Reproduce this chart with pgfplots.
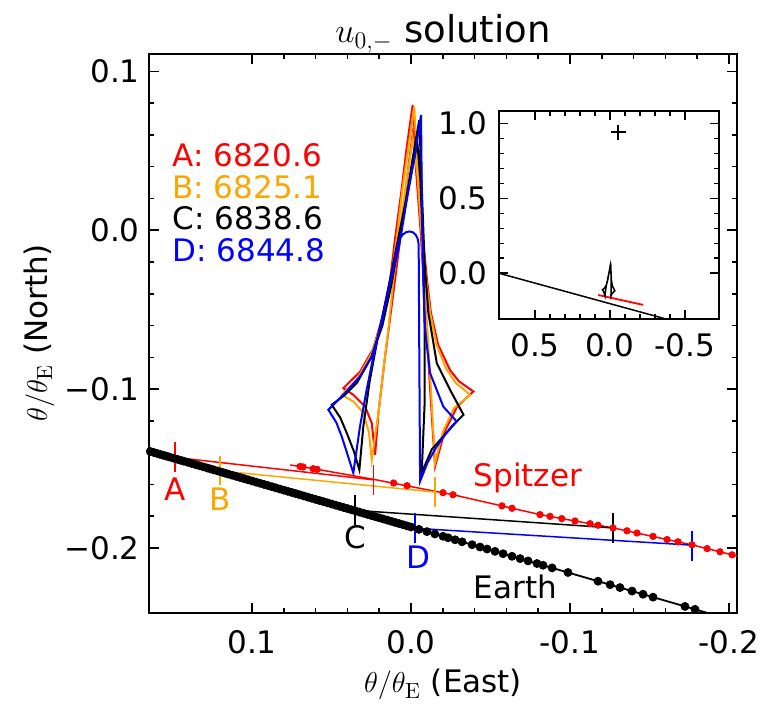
\documentclass[border=0pt]{standalone}
\usepackage[no-math]{fontspec}
\setmainfont{DejaVu Sans}
\usepackage{pgfplots}
\pgfplotsset{compat=1.18}
\definecolor{mplorange}{RGB}{255,165,0}
\definecolor{mplred}{RGB}{255,0,0}
\definecolor{mplblue}{RGB}{0,0,255}

\begin{document}
\begin{tikzpicture}[font=\fontsize{15.5}{18.6}\selectfont]
\path[use as bounding box] (0,0) rectangle (380.5pt,352pt);
\begin{axis}[
  at={(74.5pt,45.35pt)}, anchor=south west,
  scale only axis, width=294pt, height=279.65pt,
  x dir=reverse,
  xmin=-0.2050, xmax=0.1648, ymin=-0.2411, ymax=0.1109,
  xtick={0.1,0,-0.1,-0.2}, xticklabels={0.1,0.0,-0.1,-0.2},
  ytick={-0.2,-0.1,0,0.1}, yticklabels={−0.2,−0.1,0.0,0.1},
  minor x tick num=4, minor y tick num=4,
  tick align=inside, xtick pos=both, ytick pos=both,
  major tick length=5pt, minor tick length=2.5pt,
  tick style={black, line width=0.75pt},
  axis line style={line width=1pt},
  xticklabel style={inner sep=0pt, anchor=north, yshift=-8.5pt},
  yticklabel style={inner sep=0pt, anchor=east, xshift=-4.5pt},
]
% caustics
\addplot[mplred, line width=1pt] coordinates {
(-0.001,0.0788) (0.003,0.05) (0.006,0.025) (0.010,-0.005) (0.013,-0.03) (0.018,-0.055) (0.024,-0.075) (0.032,-0.089) (0.0426,-0.0994)
(0.0363,-0.1036) (0.0289,-0.111) (0.0247,-0.1214) (0.0226,-0.1413)
(0.0205,-0.115) (0.017,-0.085) (0.0125,-0.05) (0.008,-0.015) (0.004,0.02) (0.001,0.045) (-0.001,0.06)
(-0.003,0.04) (-0.006,0.0) (-0.009,-0.05) (-0.012,-0.1) (-0.0151,-0.1487)
(-0.021,-0.127) (-0.029,-0.111) (-0.0392,-0.1015)
(-0.030,-0.095) (-0.0245,-0.088) (-0.017,-0.072) (-0.0125,-0.052) (-0.010,-0.031) (-0.007,0.0) (-0.004,0.04) (-0.001,0.0788)};
\addplot[mplorange, line width=1pt] coordinates {
(-0.002,0.0778) (0.002,0.05) (0.0055,0.025) (0.009,-0.005) (0.0125,-0.03) (0.018,-0.057) (0.025,-0.078) (0.034,-0.094) (0.0436,-0.1036)
(0.036,-0.108) (0.030,-0.115) (0.0265,-0.127) (0.0247,-0.1445)
(0.0205,-0.115) (0.0174,-0.088) (0.0140,-0.06) (0.0111,-0.0313) (0.007,0.0) (0.003,0.03) (0.0,0.05) (-0.001,0.058)
(-0.004,0.035) (-0.0065,0.0) (-0.0095,-0.05) (-0.0125,-0.1) (-0.0151,-0.1466)
(-0.020,-0.127) (-0.027,-0.112) (-0.0371,-0.1036)
(-0.028,-0.096) (-0.022,-0.087) (-0.016,-0.072) (-0.012,-0.052) (-0.0095,-0.031) (-0.0065,0.0) (-0.004,0.04) (-0.002,0.0778)};
\addplot[black, line width=1pt] coordinates {
(-0.0052,0.0694) (-0.001,0.045) (0.003,0.02) (0.008,-0.01) (0.0125,-0.035) (0.018,-0.06) (0.025,-0.08) (0.034,-0.096) (0.042,-0.104) (0.0499,-0.1099)
(0.0445,-0.118) (0.0404,-0.1277) (0.036,-0.139) (0.0325,-0.1508)
(0.030,-0.1235) (0.026,-0.095) (0.021,-0.068) (0.015,-0.04) (0.009,-0.01) (0.003,0.02) (-0.002,0.045) (-0.004,0.055)
(-0.006,0.03) (-0.0075,-0.01) (-0.0085,-0.06) (-0.0085,-0.11) (-0.0067,-0.1528)
(-0.013,-0.138) (-0.0203,-0.1298) (-0.026,-0.123) (-0.033,-0.1162)
(-0.0245,-0.1004) (-0.0162,-0.0837) (-0.0109,-0.052) (-0.0085,-0.02) (-0.007,0.02) (-0.0052,0.0694)};
\addplot[mplblue, line width=1pt] coordinates {
(-0.0063,0.0725) (-0.002,0.045) (0.0025,0.02) (0.0075,-0.01) (0.0135,-0.035) (0.0184,-0.0585) (0.0247,-0.0795) (0.0321,-0.092) (0.0426,-0.1036) (0.052,-0.113)
(0.047,-0.121) (0.0436,-0.1298) (0.040,-0.141) (0.0363,-0.1528)
(0.0321,-0.1235) (0.0279,-0.1004) (0.0237,-0.0795) (0.018,-0.055) (0.0125,-0.03) (0.0074,-0.0061)
(0.0055,-0.0030) (0.0030,-0.0012) (0.0011,-0.0008) (-0.0010,-0.0012) (-0.0030,-0.0030) (-0.0042,-0.0055) (-0.0048,-0.0090)
(-0.0052,-0.08) (-0.0057,-0.158)
(-0.0105,-0.146) (-0.0162,-0.1361) (-0.022,-0.128) (-0.0287,-0.1204)
(-0.0203,-0.111) (-0.012,-0.09) (-0.0088,-0.0627) (-0.0077,-0.0313) (-0.0068,0.02) (-0.0063,0.0725)};
% Earth trajectory
\addplot[black, line width=0.9pt] coordinates {(0.166,-0.13867) (-0.19,-0.24191)};
\addplot[only marks, mark=*, mark size=2pt, mark options={black, fill=black}] coordinates {
(0.164,-0.13925) (0.162,-0.13983) (0.160,-0.14041) (0.158,-0.14099) (0.156,-0.14157) (0.154,-0.14215) (0.152,-0.14273) (0.1495,-0.14346)
(0.147,-0.14418) (0.145,-0.14476) (0.143,-0.14534) (0.1405,-0.14607) (0.138,-0.14679) (0.1355,-0.14752) (0.133,-0.14824) (0.1305,-0.14897)
(0.128,-0.14969) (0.126,-0.15027) (0.124,-0.15085) (0.1215,-0.15158) (0.119,-0.1523) (0.117,-0.15288) (0.115,-0.15346) (0.1125,-0.15419)
(0.110,-0.15491) (0.1075,-0.15564) (0.105,-0.15636) (0.1025,-0.15709) (0.100,-0.15781) (0.0975,-0.15854) (0.095,-0.15926) (0.0925,-0.15999)
(0.090,-0.16071) (0.0875,-0.16144) (0.085,-0.16216) (0.0825,-0.16289) (0.080,-0.16361) (0.0775,-0.16434) (0.075,-0.16506) (0.0725,-0.16579)
(0.070,-0.16651) (0.0675,-0.16724) (0.065,-0.16796) (0.0625,-0.16869) (0.060,-0.16941) (0.0575,-0.17014) (0.055,-0.17086) (0.0525,-0.17159)
(0.050,-0.17231) (0.0475,-0.17304) (0.045,-0.17376) (0.0425,-0.17449) (0.040,-0.17521) (0.0375,-0.17594) (0.035,-0.17666) (0.0325,-0.17739)
(0.030,-0.17811) (0.0275,-0.17884) (0.025,-0.17956) (0.0225,-0.18029) (0.020,-0.18101) (0.0175,-0.18174) (0.015,-0.18246) (0.0125,-0.18319)
(0.010,-0.18391) (0.0075,-0.18464) (0.005,-0.18536) (0.0025,-0.18609) (0.000,-0.18681) (-0.005,-0.18826) (-0.010,-0.18971) (-0.015,-0.19116)
(-0.0201,-0.19264) (-0.0233,-0.19357) (-0.0277,-0.19484)
(-0.0321,-0.19612) (-0.0384,-0.19795) (-0.0434,-0.1994) (-0.0478,-0.20067) (-0.0528,-0.20212) (-0.0579,-0.2036) (-0.0635,-0.20523) (-0.0686,-0.2067)
(-0.0736,-0.20815) (-0.0792,-0.20978) (-0.083,-0.21088) (-0.0887,-0.21253) (-0.0987,-0.21543) (-0.1176,-0.22091) (-0.1252,-0.22312) (-0.1314,-0.22492)
(-0.139,-0.22712) (-0.1459,-0.22912) (-0.1522,-0.23095) (-0.1723,-0.23678) (-0.1786,-0.2386)};
% Spitzer trajectory
\addplot[mplred, line width=0.75pt] coordinates {
(0.0760,-0.1478) (0.0698,-0.1487) (0.059,-0.1505) (0.0236,-0.1568) (-0.0264,-0.1665) (-0.0811,-0.179) (-0.1272,-0.1874) (-0.1765,-0.1980) (-0.2019,-0.2043) (-0.21,-0.2065)};
\addplot[only marks, mark=*, mark size=1.6pt, mark options={mplred, fill=mplred}] coordinates {
(0.0698,-0.1487) (0.0679,-0.1490) (0.0616,-0.1501) (0.0591,-0.1505) (0.011,-0.1591) (0.0025,-0.1608) (-0.0201,-0.1652) (-0.0264,-0.1665)
(-0.0572,-0.1735) (-0.0635,-0.1750) (-0.0811,-0.179) (-0.0874,-0.1801) (-0.0948,-0.1815) (-0.1031,-0.1830) (-0.1126,-0.1847) (-0.1176,-0.1857)
(-0.1270,-0.1874) (-0.1358,-0.1892) (-0.1421,-0.1906) (-0.1522,-0.1927) (-0.1610,-0.1947) (-0.1679,-0.1961) (-0.1767,-0.1980) (-0.1862,-0.2004)
(-0.1943,-0.2024) (-0.2019,-0.2043)};
% connecting lines
\addplot[mplred, line width=0.75pt] coordinates {(0.1484,-0.1430) (0.0236,-0.1571)};
\addplot[mplorange, line width=0.75pt] coordinates {(0.1201,-0.1515) (-0.0151,-0.1648)};
\addplot[black, line width=0.75pt] coordinates {(0.0352,-0.1763) (-0.1272,-0.1874)};
\addplot[mplblue, line width=0.75pt] coordinates {(-0.0025,-0.1876) (-0.1765,-0.1982)};
% tick marks at epochs
\addplot[mplred, line width=0.9pt] coordinates {(0.1484,-0.1519) (0.1484,-0.1331)};
\addplot[mplred, line width=0.9pt] coordinates {(0.0236,-0.1665) (0.0236,-0.1477)};
\addplot[mplorange, line width=0.9pt] coordinates {(0.1201,-0.1606) (0.1201,-0.1418)};
\addplot[mplorange, line width=0.9pt] coordinates {(-0.0151,-0.1742) (-0.0151,-0.1554)};
\addplot[black, line width=0.9pt] coordinates {(0.0352,-0.1854) (0.0352,-0.1666)};
\addplot[black, line width=0.9pt] coordinates {(-0.1272,-0.1966) (-0.1272,-0.1778)};
\addplot[mplblue, line width=0.9pt] coordinates {(-0.0025,-0.1969) (-0.0025,-0.1781)};
\addplot[mplblue, line width=0.9pt] coordinates {(-0.1765,-0.2079) (-0.1765,-0.1891)};
% labels
\node[text=mplred, inner sep=0pt, anchor=center] at (axis cs:0.1484,-0.1627) {A};
\node[text=mplorange, inner sep=0pt, anchor=center] at (axis cs:0.1201,-0.1690) {B};
\node[text=black, inner sep=0pt, anchor=center] at (axis cs:0.0352,-0.1935) {C};
\node[text=mplblue, inner sep=0pt, anchor=center] at (axis cs:-0.0046,-0.2055) {D};
\node[text=mplred, inner sep=0pt, anchor=base west] at (axis cs:-0.0392,-0.1613) {Spitzer};
\node[text=black, inner sep=0pt, anchor=base west] at (axis cs:-0.0392,-0.2315) {Earth};
\node[text=mplred, inner sep=0pt, anchor=west] at (axis cs:0.1503,0.0474) {A: 6820.6};
\node[text=mplorange, inner sep=0pt, anchor=west] at (axis cs:0.1503,0.0272) {B: 6825.1};
\node[text=black, inner sep=0pt, anchor=west] at (axis cs:0.1503,0.0077) {C: 6838.6};
\node[text=mplblue, inner sep=0pt, anchor=west] at (axis cs:0.1503,-0.0124) {D: 6844.8};
\end{axis}
\begin{axis}[
  at={(249.5pt,192.65pt)}, anchor=south west,
  scale only axis, width=110.15pt, height=104pt,
  x dir=reverse,
  xmin=-0.73, xmax=0.74, ymin=-0.303, ymax=1.084,
  xtick={0.5,0,-0.5}, xticklabels={0.5,0.0,-0.5},
  ytick={0,0.5,1}, yticklabels={0.0,0.5,1.0},
  minor x tick num=4, minor y tick num=4,
  tick align=inside, xtick pos=both, ytick pos=both,
  major tick length=4.5pt, minor tick length=2.5pt,
  tick style={black, line width=0.75pt},
  axis line style={line width=1pt},
  axis background/.style={fill=white},
  xticklabel style={inner sep=0pt, anchor=north, yshift=-7pt},
  yticklabel style={inner sep=0pt, anchor=east, xshift=-5.5pt},
]
\addplot[black, line width=0.75pt] coordinates {(0.76,0.0055) (-0.37,-0.304)};
\addplot[mplred, line width=0.9pt] coordinates {(0.078,-0.145) (-0.222,-0.211)};
\addplot[black, line width=0.75pt] coordinates {
(-0.0052,0.0694) (-0.001,0.045) (0.003,0.02) (0.008,-0.01) (0.0125,-0.035) (0.018,-0.06) (0.025,-0.08) (0.034,-0.096) (0.042,-0.104) (0.0499,-0.1099)
(0.0445,-0.118) (0.0404,-0.1277) (0.036,-0.139) (0.0325,-0.1508)
(0.030,-0.1235) (0.026,-0.095) (0.021,-0.068) (0.015,-0.04) (0.009,-0.01) (0.003,0.02) (-0.002,0.045) (-0.004,0.055)
(-0.006,0.03) (-0.0075,-0.01) (-0.0085,-0.06) (-0.0085,-0.11) (-0.0067,-0.1528)
(-0.013,-0.138) (-0.0203,-0.1298) (-0.026,-0.123) (-0.033,-0.1162)
(-0.0245,-0.1004) (-0.0162,-0.0837) (-0.0109,-0.052) (-0.0085,-0.02) (-0.007,0.02) (-0.0052,0.0694)};
\addplot[only marks, mark=+, mark size=3.75pt, mark options={black, line width=0.9pt}] coordinates {(-0.055,0.94)};
\end{axis}
\node[anchor=base, font=\fontsize{18.5}{22}\selectfont] at (221.5pt,330.5pt) {$u_{0,-}$ solution};
\node[anchor=base] at (221.5pt,5.5pt) {$\theta/\theta_{\mathrm{E}}$ (East)};
\node[anchor=base, rotate=90] at (23.5pt,185.5pt) {$\theta/\theta_{\mathrm{E}}$ (North)};
\end{tikzpicture}
\end{document}
